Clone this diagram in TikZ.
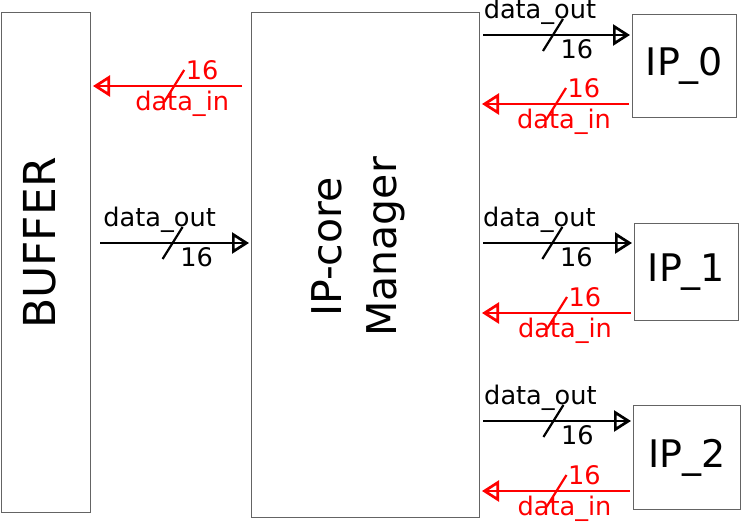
\documentclass[tikz,border=0pt]{standalone}
\usepackage{fontspec}
\setmainfont{DejaVu Sans}
\usetikzlibrary{arrows.meta, positioning, calc}
\definecolor{boxgray}{RGB}{100,100,100}
\definecolor{busred}{RGB}{255,0,0}

\begin{document}
\begin{tikzpicture}[
    x=0.5pt, y=-0.5pt,
    block/.style={rectangle, draw=boxgray, line width=0.5pt, inner sep=0pt, anchor=north west},
    ipblock/.style={block, font=\fontsize{19}{22}\selectfont},
    bigtext/.style={rotate=90, align=center, inner sep=0pt},
    bus/.style={color=#1, line width=1.35pt,
                -{Rectangle[length=8pt, width=1.35pt, sep=-8pt] Triangle[open, length=8.5pt, width=10.5pt]},
                shorten <=1.5pt, shorten >=1pt},
    port/.style={font=\fontsize{12.8}{14}\selectfont, inner sep=0pt},
    slash/.pic={\draw[-, line width=1.1pt, shorten <=0pt, shorten >=0pt] (-10,16) -- (10,-16);},
]
    \useasboundingbox (0,0) rectangle (741,525);

    % BUFFER
    \node[block, minimum width=44.75pt, minimum height=250pt] (buf) at (0.5,12) {};
    \node[bigtext, font=\fontsize{22}{26}\selectfont] (buftxt) at (40,243) {BUFFER};

    % IP-core Manager
    \node[block, minimum width=114pt, minimum height=252.5pt] (mgr) at (251,12) {};
    \node[bigtext, font=\fontsize{20.5}{27.5}\selectfont] (mgrtxt) at (358,247) {IP-core\\Manager};

    % IP cores
    \node[ipblock, minimum width=52pt, minimum height=51.5pt] (ip0) at (632,14) {IP\_0};
    \node[ipblock, minimum width=52pt, minimum height=48.5pt] (ip1) at (634,223) {IP\_1};
    \node[ipblock, minimum width=53.5pt, minimum height=52pt] (ip2) at (633,405) {IP\_2};

    % Buffer <-> Manager
    \draw[bus=busred, shorten <=4.5pt] (mgr.west |- 0,86) -- (buf.east |- 0,86) pic[pos=.48]{slash}
        node[pos=.48, port, xshift=14pt, yshift=8pt] (bi16) {16}
        node[pos=.48, port, xshift=4pt, yshift=-9pt] (bilbl) {data\_in};
    \draw[bus=black, shorten <=4.5pt] (buf.east |- 0,243) -- (mgr.west |- 0,243) pic[pos=.51]{slash}
        node[pos=.51, port, xshift=-6.5pt, yshift=11.5pt] (bolbl) {data\_out}
        node[pos=.51, port, xshift=12pt, yshift=-7pt] (bo16) {16};

    % Manager <-> IP_0
    \draw[bus=black] (mgr.east |- 0,35) -- (ip0.west |- 0,35) pic[pos=.48]{slash}
        node[pos=.48, port, xshift=-6.5pt, yshift=11.5pt] (o0lbl) {data\_out}
        node[pos=.48, port, xshift=12pt, yshift=-7pt] (o016) {16};
    \draw[bus=busred] (ip0.west |- 0,104) -- (mgr.east |- 0,104) pic[pos=.5]{slash}
        node[pos=.5, port, xshift=14pt, yshift=8pt] (i016) {16}
        node[pos=.5, port, xshift=4pt, yshift=-9pt] (i0lbl) {data\_in};

    % Manager <-> IP_1
    \draw[bus=black] (mgr.east |- 0,243) -- (ip1.west |- 0,243) pic[pos=.47]{slash}
        node[pos=.47, port, xshift=-6.5pt, yshift=11.5pt] (o1lbl) {data\_out}
        node[pos=.47, port, xshift=12pt, yshift=-7pt] (o116) {16};
    \draw[bus=busred] (ip1.west |- 0,313) -- (mgr.east |- 0,313) pic[pos=.5]{slash}
        node[pos=.5, port, xshift=14pt, yshift=8pt] (i116) {16}
        node[pos=.5, port, xshift=4pt, yshift=-9pt] (i1lbl) {data\_in};

    % Manager <-> IP_2
    \draw[bus=black] (mgr.east |- 0,421) -- (ip2.west |- 0,421) pic[pos=.48]{slash}
        node[pos=.48, port, xshift=-6.5pt, yshift=11.5pt] (o2lbl) {data\_out}
        node[pos=.48, port, xshift=12pt, yshift=-7pt] (o216) {16};
    \draw[bus=busred] (ip2.west |- 0,491) -- (mgr.east |- 0,491) pic[pos=.5]{slash}
        node[pos=.5, port, xshift=14pt, yshift=8pt] (i216) {16}
        node[pos=.5, port, xshift=4pt, yshift=-9pt] (i2lbl) {data\_in};
\end{tikzpicture}
\end{document}
